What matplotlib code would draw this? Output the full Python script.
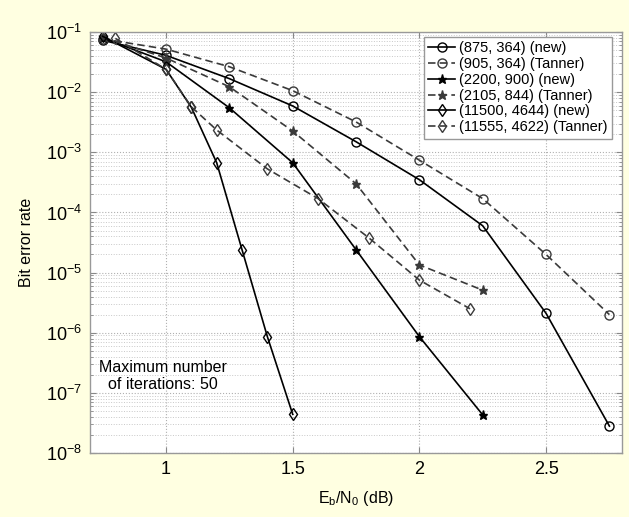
import matplotlib
matplotlib.use("Agg")
import matplotlib.pyplot as plt
import matplotlib.ticker as mticker
import numpy as np

plt.rcParams["font.family"] = ["Liberation Sans", "DejaVu Sans"]
plt.rcParams["mathtext.fontset"] = "custom"
plt.rcParams["mathtext.rm"] = "Liberation Sans"
plt.rcParams["mathtext.it"] = "Liberation Sans:italic"
plt.rcParams["mathtext.default"] = "regular"

# BER curves, (n, k) codes, 50 decoding iterations
snr_875 = [0.75, 1.0, 1.25, 1.5, 1.75, 2.0, 2.25, 2.5, 2.75]
ber_875 = [0.073, 0.041, 0.0168, 5.9e-3, 1.5e-3, 3.5e-4, 6.0e-5, 2.1e-6, 2.8e-8]

snr_905 = [0.75, 1.0, 1.25, 1.5, 1.75, 2.0, 2.25, 2.5, 2.75]
ber_905 = [0.077, 0.052, 0.0265, 0.0106, 3.2e-3, 7.4e-4, 1.7e-4, 2.0e-5, 2.0e-6]

snr_2200 = [0.75, 1.0, 1.25, 1.5, 1.75, 2.0, 2.25]
ber_2200 = [0.080, 0.032, 5.5e-3, 6.7e-4, 2.4e-5, 8.6e-7, 4.3e-8]

snr_2105 = [0.75, 1.0, 1.25, 1.5, 1.75, 2.0, 2.25]
ber_2105 = [0.082, 0.037, 0.0123, 2.26e-3, 3.0e-4, 1.34e-5, 5.1e-6]

snr_11500 = [0.75, 1.0, 1.1, 1.2, 1.3, 1.4, 1.5]
ber_11500 = [0.085, 0.024, 5.6e-3, 6.7e-4, 2.4e-5, 8.6e-7, 4.4e-8]

snr_11555 = [0.8, 1.0, 1.1, 1.2, 1.4, 1.6, 1.8, 2.0, 2.2]
ber_11555 = [0.0785, 0.024, 5.7e-3, 2.35e-3, 5.3e-4, 1.7e-4, 3.8e-5, 7.5e-6, 2.5e-6]

x_ticks = [1, 1.5, 2, 2.5]
y_ticks = [1e-8, 1e-7, 1e-6, 1e-5, 1e-4, 1e-3, 1e-2, 1e-1]

series = [
    ("(875, 364) (new)",       snr_875,   ber_875,   "o", "-"),
    ("(905, 364) (Tanner)",    snr_905,   ber_905,   "o", "--"),
    ("(2200, 900) (new)",      snr_2200,  ber_2200,  "*", "-"),
    ("(2105, 844) (Tanner)",   snr_2105,  ber_2105,  "*", "--"),
    ("(11500, 4644) (new)",    snr_11500, ber_11500, "d", "-"),
    ("(11555, 4622) (Tanner)", snr_11555, ber_11555, "d", "--"),
]

fig = plt.figure(figsize=(6.29, 5.17), dpi=100)
fig.patch.set_facecolor("#ffffe1")
ax = fig.add_axes([0.1431, 0.1238, 0.8459, 0.8142])
ax.set_facecolor("white")

for label, x, y, mk, ls in series:
    col = "black" if ls == "-" else "#3a3a3a"
    filled = mk == "*"
    ax.plot(x, y, linestyle=ls, color=col, linewidth=1.2,
            dashes=(4.5, 2.5) if ls == "--" else (None, None),
            marker=mk, markersize=6.5,
            markerfacecolor=col if filled else "none",
            markeredgecolor=col, markeredgewidth=1.0, label=label)

ax.set_yscale("log")
ax.set_xlim(0.7, 2.8)
ax.set_ylim(1e-8, 1e-1)
ax.xaxis.set_major_locator(mticker.FixedLocator(x_ticks))
ax.xaxis.set_major_formatter(mticker.FuncFormatter(lambda v, _p: f"{v:g}"))
ax.yaxis.set_major_locator(mticker.FixedLocator(y_ticks))
ax.yaxis.set_major_formatter(mticker.LogFormatterSciNotation())
ax.yaxis.set_minor_locator(mticker.LogLocator(base=10, subs=np.arange(2, 10), numticks=100))
ax.yaxis.set_minor_formatter(mticker.NullFormatter())

ax.grid(True, which="major", axis="both", color="#b0b0b0", linestyle=":", linewidth=0.8)
ax.grid(True, which="minor", axis="y", color="#c8c8c8", linestyle=":", linewidth=0.7)
ax.set_axisbelow(True)

ax.tick_params(which="both", direction="in", top=True, right=True,
               color="#888888", labelsize=13, pad=6)
ax.tick_params(which="major", length=4)
ax.tick_params(which="minor", length=2)
for sp in ax.spines.values():
    sp.set_color("#999999")
    sp.set_linewidth(1.0)

ax.set_xlabel("E$_b$/N$_0$ (dB)", fontsize=11.5, labelpad=8)
ax.set_ylabel("Bit error rate", fontsize=11.5, labelpad=8)

ax.text(0.137, 0.183, "Maximum number\nof iterations: 50", transform=ax.transAxes,
        ha="center", va="center", multialignment="center", fontsize=11.5,
        linespacing=1.2)

leg = ax.legend(loc="upper right", bbox_to_anchor=(0.981, 0.988), borderaxespad=0,
                fontsize=10.5, handlelength=1.8, handletextpad=0.3, labelspacing=0.12,
                borderpad=0.3, fancybox=False, framealpha=1)
leg.get_frame().set_edgecolor("#999999")
leg.get_frame().set_linewidth(1.0)

fig.savefig("out.png", dpi=100, facecolor=fig.get_facecolor())
